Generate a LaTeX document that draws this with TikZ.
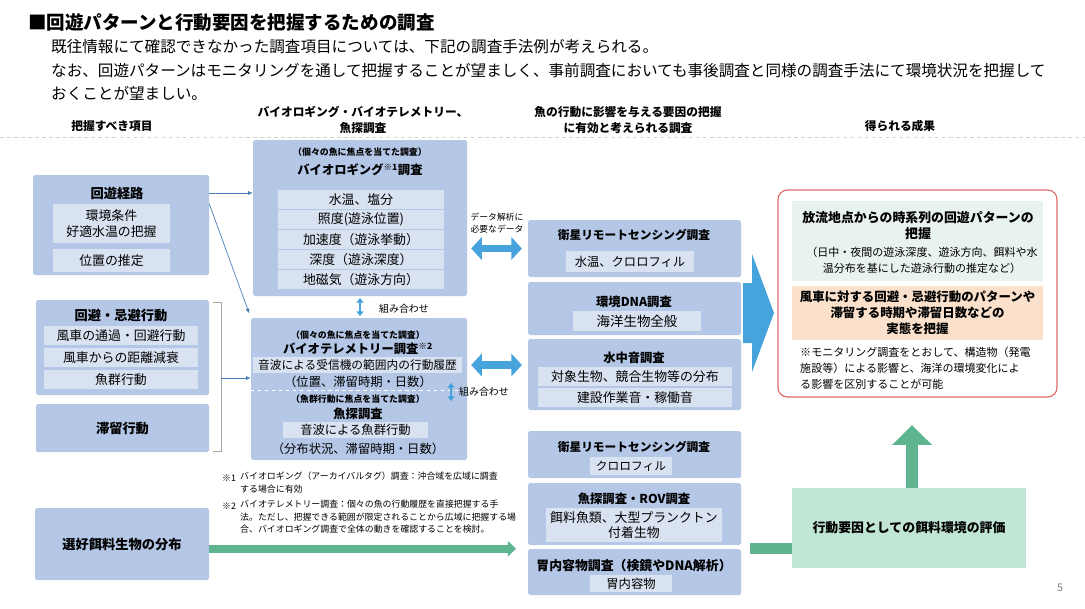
\documentclass[tikz,border=0pt]{standalone}
\usepackage{fontspec}
\setmainfont{Noto Sans CJK JP}
\usetikzlibrary{arrows.meta}
\usetikzlibrary{fit}
\definecolor{boxblue}{HTML}{B4C7E7}
\definecolor{inblue}{HTML}{D9E2F1}
\definecolor{arrblue}{HTML}{47A3DC}
\definecolor{lnblue}{HTML}{4A7EBB}
\definecolor{grarrow}{HTML}{5DB48F}
\definecolor{grbox}{HTML}{C2E6D6}
\definecolor{redframe}{HTML}{E06C6C}
\definecolor{tealbox}{HTML}{E8F2F0}
\definecolor{peach}{HTML}{FBE1CB}
\tikzset{
  bbox/.style={fill=boxblue, inner sep=0pt, rounded corners=1.5pt},
  ibox/.style={fill=inblue, inner sep=0pt},
  itx/.style={font=\fontsize{11pt}{13pt}\selectfont, align=center},
  ttl/.style={font=\bfseries\fontsize{10.5pt}{12pt}\selectfont, align=center},
  bigttl/.style={font=\bfseries\fontsize{11.3pt}{13pt}\selectfont, align=center},
  hd/.style={font=\bfseries\fontsize{10pt}{13.7pt}\selectfont, align=center},
  txt/.style={font=\fontsize{10.5pt}{12.5pt}\selectfont, align=center},
  tiny/.style={font=\bfseries\fontsize{7.6pt}{9pt}\selectfont},
  lbl/.style={font=\fontsize{8.5pt}{10pt}\selectfont},
  fnote/.style={font=\fontsize{7.6pt}{10.5pt}\selectfont, align=left},
  thin/.style={lnblue, line width=0.6pt, -{Latex[length=4pt,width=3.5pt]}},
  dbl/.style={arrblue, line width=6.5pt, {Triangle[length=9pt,width=19pt]}-{Triangle[length=9pt,width=19pt]}},
  combo/.style={arrblue, line width=1.6pt, {Triangle[length=4pt,width=6pt]}-{Triangle[length=4pt,width=6pt]}},
}
\begin{document}
\begin{tikzpicture}[x=0.03cm, y=-0.03cm, every node/.append style={inner sep=0pt}]
\useasboundingbox (0,0) rectangle (1085,608);
\fill[white] (0,0) rectangle (1085,608);
\node[anchor=west, font=\bfseries\fontsize{15.8pt}{18pt}\selectfont] (title) at (28,22) {■回遊パターンと行動要因を把握するための調査};
\node[anchor=west, font=\fontsize{13.3pt}{16pt}\selectfont] (lead1) at (51,47) {既往情報にて確認できなかった調査項目については、下記の調査手法例が考えられる。};
\node[anchor=west, font=\fontsize{13.3pt}{16pt}\selectfont] (lead2) at (51,71) {なお、回遊パターンはモニタリングを通して把握することが望ましく、事前調査においても事後調査と同様の調査手法にて環境状況を把握して};
\node[anchor=west, font=\fontsize{13.3pt}{16pt}\selectfont] (lead3) at (51,93) {おくことが望ましい。};
\draw[gray!35, dashed, line width=0.4pt] (0,137) -- (1085,137);
\node[hd] (h1) at (112,126) {把握すべき項目};
\node[hd] (h2) at (363,120) {バイオロギング・バイオテレメトリー、\\魚探調査};
\node[hd] (h3) at (628,120) {魚の行動に影響を与える要因の把握\\に有効と考えられる調査};
\node[hd] (h4) at (900,126) {得られる成果};

\node[bbox, fit={(33,175) (209,275)}] (route) {};
\node[bigttl] (routet) at (117,193) {回遊経路};
\node[ibox, fit={(53,204) (170,243)}] (cond) {};
\node[itx] at (cond) {環境条件\\好適水温の把握};
\node[ibox, fit={(53,249) (170,272)}] (pos) {};
\node[itx] at (pos) {位置の推定};
\node[bbox, fit={(36,300) (209,395)}] (avoid) {};
\node[bigttl] (avoidt) at (121,316) {回避・忌避行動};
\node[ibox, fit={(44,326) (198,345)}] (av1) {};
\node[itx] at (av1) {風車の通過・回避行動};
\node[ibox, fit={(44,348) (198,367)}] (av2) {};
\node[itx] at (av2) {風車からの距離減衰};
\node[ibox, fit={(44,370) (198,389)}] (av3) {};
\node[itx] at (av3) {魚群行動};
\node[bbox, fit={(36,404) (209,452)}] (stay) {};
\node[bigttl] at (stay) {滞留行動};
\node[bbox, fit={(35,508) (209,580)}] (pref) {};
\node[bigttl] at (pref) {選好餌料生物の分布};
\draw[gray!70, line width=0.6pt] (213,302) -- (221,302) -- (221,451) -- (213,451);
\coordinate (brk) at (221,378);

\node[bbox, fit={(253,140) (467,296)}] (blog) {};
\node[tiny] (blogs) at (360,152) {（個々の魚に焦点を当てた調査）};
\node[ttl] (blogt) at (360,170) {バイオロギング\textsuperscript{※1}調査};
\foreach \t [count=\i from 0] in {水温、塩分, 照度(遊泳位置), 加速度（遊泳挙動）, 深度（遊泳深度）, 地磁気（遊泳方向）}{
  \node[ibox, fit={(278,{190+20*\i}) (444,{209+20*\i})}] (bl\i) {};
  \node[itx] at (bl\i) {\t};
}
\node[bbox, fit={(251,318) (467,460)}] (bt) {};
\node[tiny] (bts) at (358,335) {（個々の魚に焦点を当てた調査）};
\node[ttl] (btt) at (358,349) {バイオテレメトリー調査\textsuperscript{※2}};
\node[ibox, fit={(253,357) (462,373)}] (bt1) {};
\node[itx, font=\fontsize{10pt}{12pt}\selectfont] at (bt1) {音波による受信機の範囲内の行動履歴};
\node[txt] (bt2) at (358,382) {（位置、滞留時期・日数）};
\draw[white, dashed, line width=0.5pt] (bt.west |- 0,390) -- (bt.east |- 0,390);
\node[tiny] (fss) at (358,399) {（魚群行動に焦点を当てた調査）};
\node[ttl] (fst) at (358,414) {魚探調査};
\node[ibox, fit={(283,422) (428,438)}] (fs1) {};
\node[itx, font=\fontsize{10.5pt}{12pt}\selectfont] at (fs1) {音波による魚群行動};
\node[txt] (fs2) at (358,449) {（分布状況、滞留時期・日数）};
\draw[combo, shorten <=1.5pt, shorten >=1.5pt] (blog.south) -- (blog.south |- bt.north);
\node[lbl] (comb1) at (404,309) {組み合わせ};
\draw[combo] (451,383) -- (451,401);
\node[lbl] (comb2) at (484,392) {組み合わせ};

\draw[thin] (route.east |- routet) -- (blog.west |- routet);
\draw[thin, shorten >=4pt] (route.east |- cond.north) -- (bt.north west);
\draw[thin] (brk) -- (bt.west |- brk);

\node[bbox, fit={(528,220) (741,277)}] (sat1) {};
\node[ttl, font=\bfseries\fontsize{10pt}{12pt}\selectfont] (sat1t) at (634,235) {衛星リモートセンシング調査};
\node[ibox, fit={(566,251) (694,272)}] (sat1a) {};
\node[itx, font=\fontsize{10.5pt}{12pt}\selectfont] at (sat1a) {水温、クロロフィル};
\node[bbox, fit={(528,282) (741,335)}] (edna) {};
\node[ttl] (ednat) at (634,302) {環境DNA調査};
\node[ibox, fit={(573,311) (701,331)}] (edna1) {};
\node[itx, font=\fontsize{11.5pt}{13pt}\selectfont] at (edna1) {海洋生物全般};
\node[bbox, fit={(528,339) (741,410)}] (uw) {};
\node[ttl] (uwt) at (634,358) {水中音調査};
\node[ibox, fit={(538,367) (732,386)}] (uw1) {};
\node[itx] at (uw1) {対象生物、競合生物等の分布};
\node[ibox, fit={(538,388) (732,407)}] (uw2) {};
\node[itx] at (uw2) {建設作業音・稼働音};
\node[bbox, fit={(528,431) (741,478)}] (sat2) {};
\node[ttl, font=\bfseries\fontsize{10pt}{12pt}\selectfont] (sat2t) at (634,447) {衛星リモートセンシング調査};
\node[ibox, fit={(590,457) (672,475)}] (sat2a) {};
\node[itx, font=\fontsize{10pt}{12pt}\selectfont] at (sat2a) {クロロフィル};
\node[bbox, fit={(528,483) (741,545)}] (rov) {};
\node[ttl] (rovt) at (634,499) {魚探調査・ROV調査};
\node[ibox, fit={(546,508) (722,542)}] (rov1) {};
\node[itx, font=\fontsize{11pt}{13.5pt}\selectfont] at (rov1) {餌料魚類、大型プランクトン\\付着生物};
\node[bbox, fit={(528,549) (741,595)}] (stom) {};
\node[ttl, font=\bfseries\fontsize{11pt}{12pt}\selectfont] (stomt) at (634,566) {胃内容物調査（検鏡やDNA解析）};
\node[ibox, fit={(590,575) (672,592)}] (stom1) {};
\node[itx, font=\fontsize{10.5pt}{12pt}\selectfont] at (stom1) {胃内容物};

\draw[dbl, shorten <=3.4pt, shorten >=5pt] (blog.east |- sat1) -- (sat1.west);
\draw[dbl, shorten <=3.4pt, shorten >=5pt] (bt.east |- bt1) -- (uw.west |- bt1);
\node[font=\fontsize{7.5pt}{10pt}\selectfont, align=center] (datal) at (497,223) {データ解析に\\必要なデータ};

\fill[arrblue] (743,283) -- (752,283) -- (752,254) -- (774,313) -- (752,372) -- (752,343) -- (743,343) -- cycle;

\node[fit={(778,190) (1057,397)}, draw=redframe, line width=1pt, rounded corners=8pt] (res) {};
\node[fill=tealbox, fit={(792,201) (1043,281)}] (res1) {};
\node[ttl, font=\bfseries\fontsize{11pt}{13.7pt}\selectfont] (res1t) at (918,226) {放流地点からの時系列の回遊パターンの\\把握};
\node[txt, font=\fontsize{9.4pt}{13.7pt}\selectfont] (res1s) at (922,260) {（日中・夜間の遊泳深度、遊泳方向、餌料や水\\温分布を基にした遊泳行動の推定など）};
\node[fill=peach, fit={(792,286) (1043,340)}] (res2) {};
\node[ttl, font=\bfseries\fontsize{10.6pt}{13.7pt}\selectfont] at (res2) {風車に対する回避・忌避行動のパターンや\\滞留する時期や滞留日数などの\\実態を把握};
\node[anchor=west, font=\fontsize{9.4pt}{13.7pt}\selectfont, align=left] (resn) at (800,368) {※モニタリング調査をとおして、構造物（発電\\施設等）による影響と、海洋の環境変化によ\\る影響を区別することが可能};

\node[fill=grbox, fit={(792,488) (1026,568)}] (grn) {};
\node[bigttl, font=\bfseries\fontsize{11pt}{13pt}\selectfont] at (grn) {行動要因としての餌料環境の評価};
\draw[grarrow, line width=10.2pt, -{Triangle[length=17pt,width=33pt]}] (grn.north -| 912,0) -- (912,425);
\draw[grarrow, line width=9.4pt, shorten <=7.7pt] (stom.north east) -- (grn.west |- stom.north east);
\draw[grarrow, line width=6.8pt, -{Triangle[length=7pt,width=13pt]}, shorten >=10pt] (pref.east |- stom.north west) -- (stom.north west);

\node[fnote, anchor=west] (fn1m) at (222,478) {※1};
\node[fnote, anchor=north west] (fn1) at (240,472) {バイオロギング（アーカイバルタグ）調査：沖合域を広域に調査\\する場合に有効};
\node[fnote, anchor=west] (fn2m) at (222,506) {※2};
\node[fnote, anchor=north west] (fn2) at (240,500) {バイオテレメトリー調査：個々の魚の行動履歴を直接把握する手\\法。ただし、把握できる範囲が限定されることから広域に把握する場\\合、バイオロギング調査で全体の動きを確認することを検討。};
\node[font=\fontsize{9pt}{10pt}\selectfont, text=gray] (pg) at (1060,588) {5};
\end{tikzpicture}
\end{document}
